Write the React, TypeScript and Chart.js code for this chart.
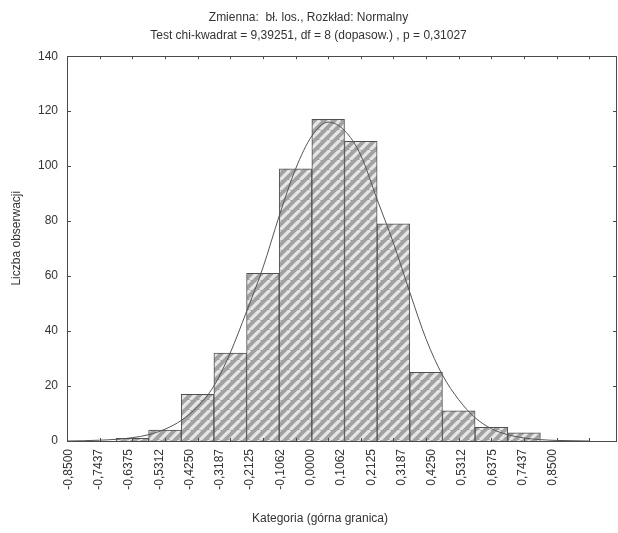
import React, { useEffect, useRef } from 'react';
import { Chart, registerables } from 'chart.js';

Chart.register(...registerables);

const titleLines = [
  'Zmienna:  bł. los., Rozkład: Normalny',
  'Test chi-kwadrat = 9,39251, df = 8 (dopasow.) , p = 0,31027',
];
const yAxisTitle = 'Liczba obserwacji';
const xAxisTitle = 'Kategoria (górna granica)';

// category values (labels) and bin positions
const categories = [
  -0.85, -0.74375, -0.6375, -0.53125, -0.425, -0.31875, -0.2125, -0.10625, 0,
  0.10625, 0.2125, 0.31875, 0.425, 0.53125, 0.6375, 0.74375, 0.85,
];
const tickLabels = [
  '-0,8500', '-0,7437', '-0,6375', '-0,5312', '-0,4250', '-0,3187', '-0,2125', '-0,1062', '0,0000',
  '0,1062', '0,2125', '0,3187', '0,4250', '0,5312', '0,6375', '0,7437', '0,8500',
];
const counts = [0, 0, 1, 4, 17, 32, 61, 99, 117, 109, 79, 25, 11, 5, 3, 0, 0];

// fitted normal curve
const curveX = [
  -0.85, -0.797, -0.744, -0.691, -0.6375, -0.584, -0.531, -0.478, -0.425, -0.372, -0.319, -0.266,
  -0.2125, -0.159, -0.106, -0.053, 0, 0.053, 0.106, 0.159, 0.2125, 0.266, 0.319, 0.372, 0.425,
  0.478, 0.531, 0.584, 0.6375, 0.691, 0.744, 0.797, 0.85,
];
const curveY = [
  0, 0.1, 0.3, 0.6, 1.2, 2.3, 4.3, 7.5, 12.5, 20, 32, 47,
  63, 82, 99, 111, 116, 113, 104, 88, 72, 54, 37, 24, 15,
  8.5, 4.5, 2.3, 1.1, 0.5, 0.2, 0.1, 0,
];
const yTicks = [0, 20, 40, 60, 80, 100, 120, 140];

const FONT = "'Liberation Sans', Arial, sans-serif";
const TEXT = '#333333';
const LINE = '#4a4a4a';

function makeHatch(): CanvasPattern | string {
  const s = 10;
  const c = document.createElement('canvas');
  c.width = s;
  c.height = s;
  const g = c.getContext('2d');
  if (!g) return '#bbbbbb';
  g.fillStyle = '#a2a2a2';
  g.fillRect(0, 0, s, s);
  g.strokeStyle = '#e6e6e6';
  g.lineWidth = 3.2;
  g.beginPath();
  for (let k = -1; k <= 1; k++) {
    g.moveTo(k * s, s);
    g.lineTo(k * s + s, 0);
  }
  g.stroke();
  const p = g.createPattern(c, 'repeat');
  return p || '#bbbbbb';
}

const frameAndTitles = {
  id: 'frameAndTitles',
  afterDraw(chart: any) {
    const { ctx, chartArea } = chart;
    const { left, right, top, bottom } = chartArea;
    const xb = chart.scales.xb;
    const ys = chart.scales.y;
    ctx.save();
    ctx.strokeStyle = LINE;
    ctx.lineWidth = 1;
    ctx.strokeRect(Math.round(left) + 0.5, Math.round(top) + 0.5, Math.round(right - left) - 1, Math.round(bottom - top));
    ctx.beginPath();
    ys.ticks.forEach((t: any) => {
      const py = Math.round(ys.getPixelForValue(t.value)) + 0.5;
      ctx.moveTo(left, py);
      ctx.lineTo(left + 4, py);
      ctx.moveTo(right - 4, py);
      ctx.lineTo(right, py);
    });
    categories.forEach((v) => {
      const px = Math.round(xb.getPixelForValue(v)) + 0.5;
      ctx.moveTo(px, bottom);
      ctx.lineTo(px, bottom - 3);
      ctx.moveTo(px, top);
      ctx.lineTo(px, top + 3);
    });
    ctx.stroke();

    // axis titles
    ctx.fillStyle = TEXT;
    ctx.font = `12px ${FONT}`;
    ctx.textAlign = 'center';
    ctx.textBaseline = 'middle';
    ctx.fillText(xAxisTitle, left + (right - left) * 0.46, chart.height - 14);
    ctx.translate(17, top + (bottom - top) * 0.473);
    ctx.rotate(-Math.PI / 2);
    ctx.fillText(yAxisTitle, 0, 0);
    ctx.restore();
  },
};

export default function App() {
  const ref = useRef<HTMLCanvasElement | null>(null);

  useEffect(() => {
    if (!ref.current) return;
    const hatch = makeHatch();
    const chart = new Chart(ref.current, {
      data: {
        datasets: [
          {
            type: 'line' as const,
            label: 'Normalny',
            xAxisID: 'xb',
            data: curveX.map((x, i) => ({ x, y: curveY[i] })),
            borderColor: '#555555',
            borderWidth: 1,
            pointRadius: 0,
            tension: 0.4,
            cubicInterpolationMode: 'monotone' as const,
            fill: false,
            order: 0,
          },
          {
            type: 'bar' as const,
            label: 'Liczba obserwacji',
            xAxisID: 'xb',
            data: categories.map((x, i) => ({ x, y: counts[i] })),
            backgroundColor: hatch as any,
            borderColor: '#505050',
            borderWidth: 1,
            categoryPercentage: 1,
            barPercentage: 1,
            order: 1,
          },
        ],
      },
      options: {
        animation: false,
        responsive: true,
        maintainAspectRatio: false,
        layout: { padding: { left: 0, right: 1, top: 0, bottom: 0 } },
        plugins: {
          legend: { display: false },
          tooltip: { enabled: false },
          title: {
            display: true,
            text: titleLines,
            color: TEXT,
            font: { family: FONT, size: 12, weight: 'normal', lineHeight: 1.55 },
            padding: { top: 8, bottom: 11 },
          },
        },
        scales: {
          xb: {
            type: 'linear',
            display: false,
            offset: false,
            min: -0.85,
            max: 0.94,
            afterBuildTicks: (scale: any) => {
              scale.ticks = categories.map((v) => ({ value: v }));
            },
          },
          x: {
            type: 'linear',
            position: 'bottom',
            offset: false,
            min: -0.855,
            max: 1.075,
            afterBuildTicks: (scale: any) => {
              scale.ticks = categories.map((v) => ({ value: v }));
            },
            afterFit: (scale: any) => {
              scale.height = 92;
              scale.paddingLeft = 0;
              scale.paddingRight = 0;
            },
            grid: { display: false, drawTicks: false },
            border: { display: false },
            ticks: {
              autoSkip: false,
              minRotation: 90,
              maxRotation: 90,
              padding: 8,
              color: TEXT,
              font: { family: FONT, size: 12 },
              callback: (_v: any, i: number) => tickLabels[i],
            },
            title: { display: false, text: xAxisTitle },
          },
          y: {
            min: 0,
            max: 140,
            afterBuildTicks: (scale: any) => {
              scale.ticks = yTicks.map((v) => ({ value: v }));
            },
            afterFit: (scale: any) => {
              scale.width = 67;
            },
            grid: { display: false, drawTicks: false },
            border: { display: false },
            ticks: {
              padding: 9,
              color: TEXT,
              font: { family: FONT, size: 12 },
            },
            title: { display: false, text: yAxisTitle },
          },
        },
      },
      plugins: [frameAndTitles],
    });
    return () => chart.destroy();
  }, []);

  return (
    <div style={{ position: 'absolute', left: 0, top: 0, width: 618, height: 533, background: '#ffffff' }}>
      <canvas ref={ref} />
    </div>
  );
}
